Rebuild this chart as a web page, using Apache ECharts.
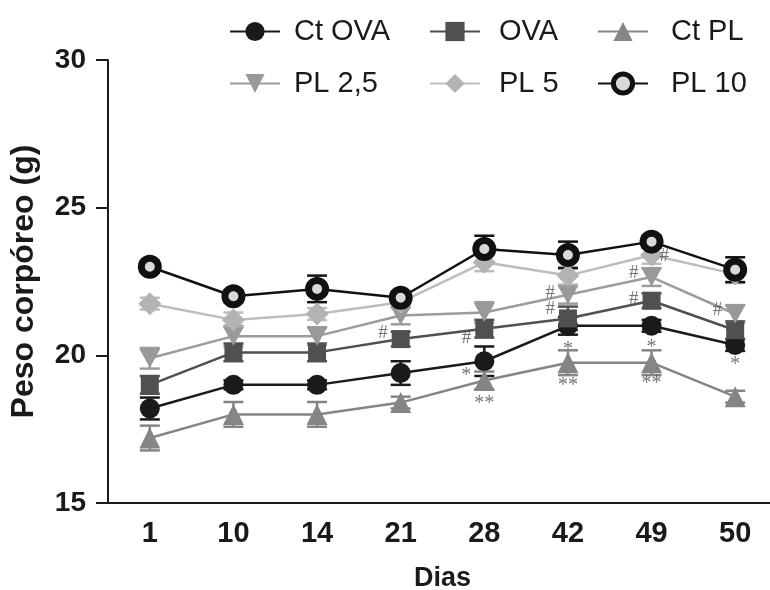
<!DOCTYPE html>
<html>
<head>
<meta charset="utf-8">
<script src="https://cdn.jsdelivr.net/npm/echarts@6/dist/echarts.min.js"></script>
<style>
  html, body { margin: 0; padding: 0; background: #fff; }
  #chart { width: 770px; height: 590px; }
</style>
</head>
<body>
<div id="chart"></div>
<script>
// dias de medição
var days = ['1', '10', '14', '21', '28', '42', '49', '50'];

// peso médio (g) por grupo
var ctOva = [18.2, 19.0, 19.0, 19.4, 19.8, 21.0, 21.0, 20.35];
var ova   = [19.0, 20.1, 20.1, 20.55, 20.9, 21.25, 21.85, 20.85];
var ctPl  = [17.2, 18.0, 18.0, 18.4, 19.15, 19.75, 19.75, 18.6];
var pl25  = [19.9, 20.65, 20.65, 21.35, 21.45, 22.05, 22.65, 21.4];
var pl5   = [21.75, 21.2, 21.4, 21.8, 23.15, 22.7, 23.4, 22.75];
var pl10  = [23.0, 22.0, 22.25, 21.95, 23.6, 23.4, 23.85, 22.9];

// erro padrão
var ctOvaErr = [0.37, 0.15, 0.15, 0.4, 0.5, 0.3, 0.2, 0.2];
var ovaErr   = [0.3, 0.3, 0.3, 0.25, 0.3, 0.4, 0.25, 0.3];
var ctPlErr  = [0.42, 0.42, 0.42, 0.2, 0.3, 0.42, 0.42, 0.2];
var pl25Err  = [0.35, 0.35, 0.3, 0.3, 0.35, 0.3, 0.3, 0.3];
var pl5Err   = [0.2, 0.25, 0.2, 0.2, 0.3, 0.3, 0.3, 0.3];
var pl10Err  = [0.2, 0.2, 0.45, 0.2, 0.45, 0.45, 0.2, 0.42];

// marcas de significância [dia, valor]
var hashLeft  = [['21', 20.74], ['28', 20.6], ['42', 22.12], ['42', 21.58], ['49', 22.79], ['49', 21.92], ['50', 21.52]];
var hashRight = [['49', 23.37]];
var starLeft  = [['28', 19.43]];
var starBelow = [['42', 20.34], ['49', 20.4], ['50', 19.83]];
var starTwo   = [['28', 18.49], ['42', 19.09], ['49', 19.16]];

var FONT = 'Liberation Sans';
var chart = echarts.init(document.getElementById('chart'));

var groups = [
    { name: 'Ct OVA', data: ctOva, err: ctOvaErr, color: '#1a1a1a', line: '#1a1a1a', symbol: 'circle', size: 20 },
    { name: 'OVA', data: ova, err: ovaErr, color: '#505050', line: '#505050', symbol: 'rect', size: 18 },
    { name: 'Ct PL', data: ctPl, err: ctPlErr, color: '#858585', line: '#858585', symbol: 'triangle', size: 21 },
    { name: 'PL 2,5', data: pl25, err: pl25Err, color: '#999999', line: '#9c9c9c', symbol: 'path://M0,0L20,0L10,18Z', size: [21, 19] },
    { name: 'PL 5', data: pl5, err: pl5Err, color: '#b3b3b3', line: '#bdbdbd', symbol: 'diamond', size: 23 },
    { name: 'PL 10', data: pl10, err: pl10Err, color: '#d9d9d9', line: '#111111', symbol: 'circle', size: 17, border: 7 }
];

function errorBars(color) {
    return function (params, api) {
        var i = api.value(0);
        var lo = api.coord([i, api.value(1)]);
        var hi = api.coord([i, api.value(2)]);
        var w = 10;
        var st = { stroke: color, lineWidth: 2.5, fill: null };
        return {
            type: 'group',
            children: [
                { type: 'line', shape: { x1: lo[0], y1: lo[1], x2: hi[0], y2: hi[1] }, style: st },
                { type: 'line', shape: { x1: lo[0] - w, y1: lo[1], x2: lo[0] + w, y2: lo[1] }, style: st },
                { type: 'line', shape: { x1: hi[0] - w, y1: hi[1], x2: hi[0] + w, y2: hi[1] }, style: st }
            ]
        };
    };
}

var series = [];
groups.forEach(function (g) {
    var barColor = g.border ? '#111111' : g.line;
    series.push({
        name: 'err ' + g.name,
        type: 'custom',
        renderItem: errorBars(barColor),
        data: g.data.map(function (v, i) { return [i, v - g.err[i], v + g.err[i]]; }),
        encode: { x: 0, y: [1, 2] },
        silent: true
    });
    series.push({
        name: g.name,
        type: 'line',
        data: g.data,
        symbol: g.symbol,
        symbolSize: g.size,
        showAllSymbol: true,
        lineStyle: { color: g.line, width: 2.5 },
        itemStyle: g.border
            ? { color: g.color, borderColor: '#111111', borderWidth: g.border }
            : { color: g.color }
    });
});

function marks(data, text, position, distance, offset, size) {
    return {
        type: 'scatter',
        data: data,
        symbolSize: 0,
        silent: true,
        z: 5,
        label: {
            show: true,
            formatter: text,
            position: position,
            distance: distance,
            offset: offset,
            color: '#5a5046',
            fontFamily: 'Liberation Serif',
            fontSize: size
        }
    };
}
series.push(marks(hashLeft, '#', 'left', 13, [0, 0], 19));
series.push(marks(hashRight, '#', 'right', 8, [0, 0], 19));
series.push(marks(starLeft, '*', 'left', 13, [0, 4], 20));
series.push(marks(starBelow, '*', 'inside', 0, [0, 4], 20));
series.push(marks(starTwo, '**', 'inside', 0, [0, 4], 20));

// legenda em 2 linhas x 3 colunas
var legendCols = [224, 424, 592];
var legendPads = [9, 14, 18];
var legendRows = [12, 64];
var legends = groups.map(function (g, i) {
    var col = i % 3;
    return {
        data: [g.name],
        left: legendCols[col],
        top: legendRows[Math.floor(i / 3)],
        orient: 'horizontal',
        itemWidth: 50,
        itemHeight: 24,
        selectedMode: false,
        itemStyle: g.border ? { borderWidth: 5, borderColor: '#111111' } : {},
        textStyle: {
            fontFamily: FONT,
            fontSize: 29,
            color: '#1a1a1a',
            padding: [0, 0, 0, legendPads[col]]
        }
    };
});

var option = {
    animation: false,
    backgroundColor: '#ffffff',
    legend: legends,
    grid: { left: 108, top: 60, width: 669, bottom: 87, containLabel: false, outerBoundsMode: 'none' },
    xAxis: {
        type: 'category',
        data: days,
        boundaryGap: true,
        name: 'Dias',
        nameLocation: 'middle',
        nameGap: 62,
        nameTextStyle: { fontFamily: FONT, fontSize: 27, fontWeight: 'bold', color: '#1a1a1a' },
        axisLine: { lineStyle: { color: '#1a1a1a', width: 2 } },
        axisTick: { alignWithLabel: true, length: 12, lineStyle: { color: '#1a1a1a', width: 2 } },
        axisLabel: { margin: 16, fontFamily: FONT, fontSize: 29, fontWeight: 'bold', color: '#1a1a1a' },
        splitLine: { show: false }
    },
    yAxis: {
        type: 'value',
        min: 15,
        max: 30,
        interval: 5,
        name: 'Peso corpóreo (g)',
        nameLocation: 'middle',
        nameRotate: 90,
        nameGap: 68,
        nameTextStyle: { fontFamily: FONT, fontSize: 32, fontWeight: 'bold', color: '#1a1a1a' },
        axisLine: { show: true, lineStyle: { color: '#1a1a1a', width: 2 } },
        axisTick: { show: true, length: 12, lineStyle: { color: '#1a1a1a', width: 2 } },
        axisLabel: { margin: 22, fontFamily: FONT, fontSize: 28, fontWeight: 'bold', color: '#1a1a1a' },
        splitLine: { show: false }
    },
    series: series
};

chart.setOption(option);
</script>
</body>
</html>
